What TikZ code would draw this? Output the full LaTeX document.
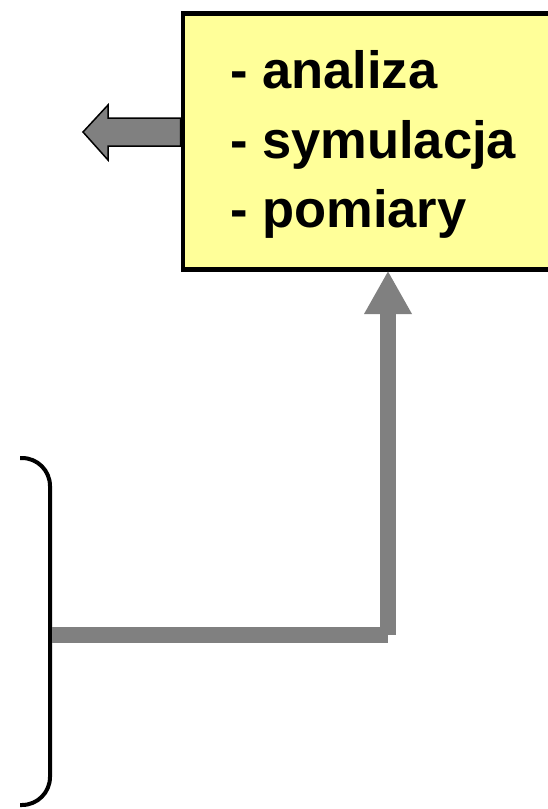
\documentclass[tikz,border=0pt]{standalone}
\usepackage{fontspec}
\setmainfont{Liberation Sans}
\definecolor{boxyellow}{HTML}{FFFF99}
\definecolor{arrowgray}{HTML}{808080}
\begin{document}
\begin{tikzpicture}[x=1pt,y=-1pt,
  yellowbox/.style={draw=black, line width=4.5pt, fill=boxyellow, inner sep=0pt, anchor=north west},
  itemtext/.style={anchor=base west, inner sep=0pt, font=\fontsize{52.5}{60}\selectfont\bfseries},
  grayline/.style={draw=arrowgray, line width=16pt, line cap=butt},
  bracket/.style={draw=black, line width=4pt, rounded corners=28pt}]
\useasboundingbox (0,0) rectangle (548,809);
\clip (0,0) rectangle (548,809);
% box
\node[yellowbox, minimum width=390pt, minimum height=256pt] (box) at (180.5,11) {};
\node[itemtext] (l1) at (230,88) {- analiza};
\node[itemtext] (l2) at (230,158) {- symulacja};
\node[itemtext] (l3) at (230,227) {- pomiary};
% left block arrow
\coordinate (lt) at (83,132);
\filldraw[fill=arrowgray, draw=black, line width=1.5pt, line join=miter]
  (box.west |- 0,118) -- (108,118) -- (108,105) -- (lt) -- (108,160) -- (108,146) -- (box.west |- 0,146) -- cycle;
% bracket
\coordinate (bt) at (20,458);
\coordinate (bb) at (20,805);
\draw[bracket] (bt) -- (50,458) -- (50,805) -- (bb);
% L connector
\coordinate (start) at (52,635);
\coordinate (corner) at (388,635);
\coordinate (headbase) at (388,314);
\draw[grayline] (start) -- (corner);
\draw[grayline] (corner) -- (headbase);
\fill[arrowgray] (364,314) -- (412,314) -- (box.south -| corner) -- cycle;
\end{tikzpicture}
\end{document}
